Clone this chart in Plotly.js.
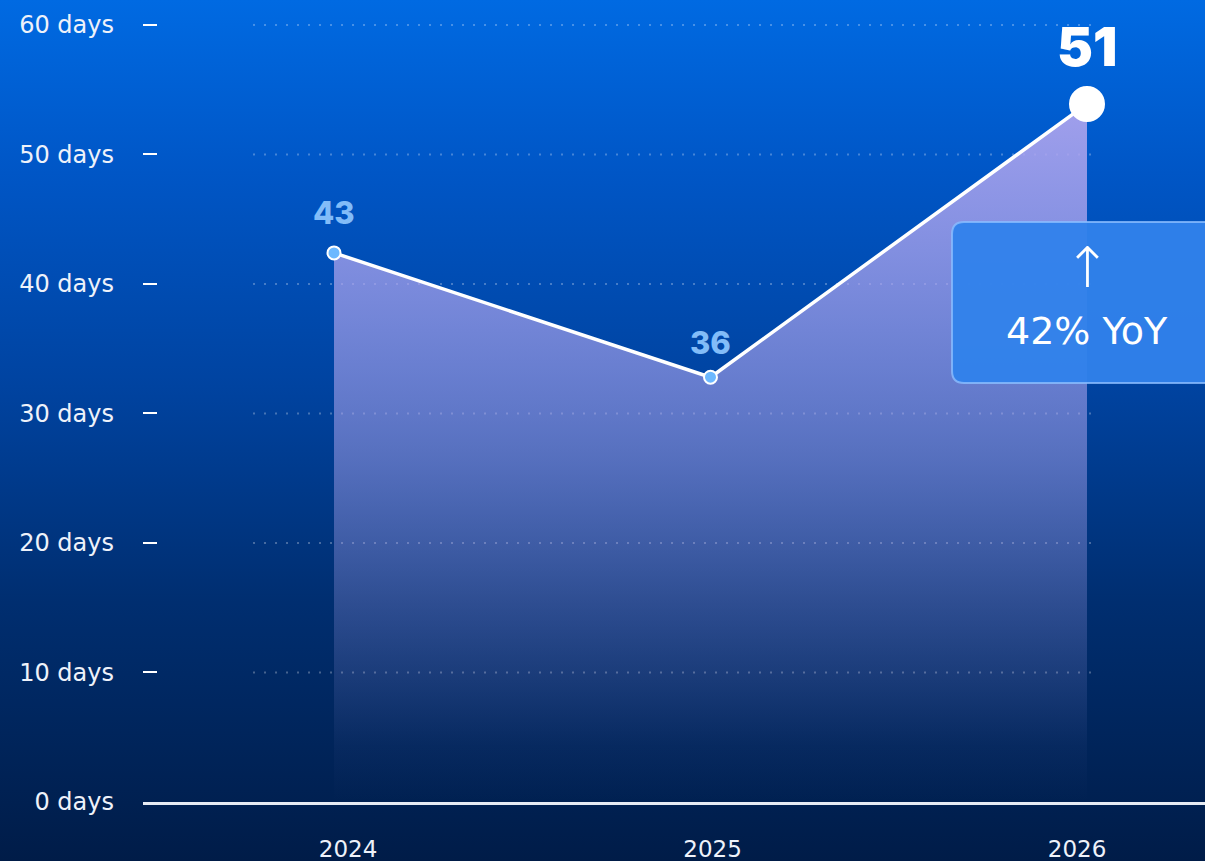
<!DOCTYPE html>
<html>
<head>
<meta charset="utf-8">
<script src="https://cdn.plot.ly/plotly-3.0.1.min.js"></script>
<style>
  html, body { margin: 0; padding: 0; width: 1205px; height: 861px; overflow: hidden;
    background: linear-gradient(to bottom, #006ae2 0%, #0056c6 20%, #0043a0 45%, #002e70 70%, #001c48 100%); }
  #chart { width: 1205px; height: 861px; }
</style>
</head>
<body>
<div id="chart"></div>
<script>
// ---- data ----
const years = [2024, 2025, 2026];
const tickYears = ['2024', '2025', '2026'];
const plotValues = [42.4, 32.8, 53.9];       // plotted heights
const labelTexts = ['43', '36', '51'];         // value labels as printed
const yTickVals = [0, 10, 20, 30, 40, 50, 60];
const yTickText = ['0 days', '10 days', '20 days', '30 days', '40 days', '50 days', '60 days'];
const gridVals = [10, 20, 30, 40, 50, 60];
const yoyText = '42% YoY';

// ---- styles ----
const labelColors = ['#82bcf8', '#82bcf8', '#ffffff'];
const labelSizes = [31, 31, 54];
const labelWeights = [800, 800, 900];
const labelShift = [40, 35, 57];
const markerSizes = [13, 13, 34];
const markerColors = ['#6cb8ff', '#6cb8ff', '#ffffff'];

const baseTrace = {
  type: 'scatter', mode: 'none',
  x: years, y: [null, null, null],
  xaxis: 'x', yaxis: 'y',
  hoverinfo: 'skip', showlegend: false
};

const trace = {
  type: 'scatter',
  mode: 'lines+markers',
  x: years,
  y: plotValues,
  xaxis: 'x2',
  yaxis: 'y',
  fill: 'tozeroy',
  fillgradient: {
    type: 'vertical',
    start: 0,
    stop: 54,
    colorscale: [
      [0, 'rgba(175,165,238,0)'],
      [0.08, 'rgba(175,165,238,0.04)'],
      [0.5, 'rgba(175,165,238,0.5)'],
      [1, 'rgba(175,165,238,0.92)']
    ]
  },
  line: { color: '#ffffff', width: 3.5 },
  marker: { size: markerSizes, color: markerColors, line: { color: '#ffffff', width: 2 }, opacity: 1 },
  hoverinfo: 'skip',
  showlegend: false
};

// dotted grid lines as shapes
const shapes = gridVals.map(v => ({
  type: 'line', xref: 'paper', yref: 'y',
  x0: 0.1036, x1: 0.901, y0: v, y1: v,
  line: { color: 'rgba(255,255,255,0.28)', width: 2, dash: '2px,9px' },
  layer: 'below'
}));

// YoY box (rounded rect in paper coords)
const bx0 = 0.7618, bx1 = 1.03, by0 = 0.5380, by1 = 0.7444, rx = 0.0113, ry = 0.0154;
const boxPath = `M ${bx0+rx},${by1} L ${bx1-rx},${by1} Q ${bx1},${by1} ${bx1},${by1-ry} L ${bx1},${by0+ry} Q ${bx1},${by0} ${bx1-rx},${by0} L ${bx0+rx},${by0} Q ${bx0},${by0} ${bx0},${by0+ry} L ${bx0},${by1-ry} Q ${bx0},${by1} ${bx0+rx},${by1} Z`;
shapes.push({
  type: 'path', xref: 'paper', yref: 'paper', path: boxPath,
  fillcolor: 'rgba(48,130,235,0.95)',
  line: { color: 'rgba(140,190,255,0.8)', width: 2 },
  layer: 'above'
});

const annotations = years.map((yr, i) => ({
  xref: 'x2', yref: 'y', x: yr, y: plotValues[i],
  text: labelTexts[i], showarrow: false,
  yanchor: 'middle', xanchor: 'center', yshift: labelShift[i],
  font: { family: 'Inter, Open Sans, sans-serif', size: labelSizes[i], color: labelColors[i], weight: labelWeights[i] }
}));
annotations.push({
  xref: 'paper', yref: 'paper', x: 0.8889, y: 0.6855,
  text: '↑', showarrow: false, xanchor: 'center', yanchor: 'middle',
  font: { family: 'DejaVu Sans, sans-serif', size: 56, color: '#ffffff', weight: 300 }
});
annotations.push({
  xref: 'paper', yref: 'paper', x: 0.8889, y: 0.6046,
  text: yoyText, showarrow: false, xanchor: 'center', yanchor: 'middle',
  font: { family: 'DejaVu Sans, sans-serif', size: 38, color: '#ffffff' }
});

const layout = {
  width: 1205, height: 861,
  margin: { l: 143, r: 0, t: 23, b: 59 },
  paper_bgcolor: 'rgba(0,0,0,0)',
  plot_bgcolor: 'rgba(0,0,0,0)',
  font: { family: 'DejaVu Sans, sans-serif', color: '#eef2fa' },
  xaxis: {
    range: [2023.4376, 2026.351],
    tickvals: years, ticktext: tickYears,
    showgrid: false, zeroline: false,
    showline: true, linecolor: '#e6ebf3', linewidth: 3,
    ticks: '', ticklabelstandoff: 24,
    tickfont: { size: 23, color: '#eef2fa' },
    fixedrange: true, automargin: false
  },
  xaxis2: {
    overlaying: 'x', range: [2023.4927, 2026.3134], visible: false, fixedrange: true
  },
  yaxis: {
    range: [0, 60.15],
    tickvals: yTickVals, ticktext: yTickText,
    showgrid: false, zeroline: false, showline: false,
    ticks: 'inside', ticklen: 14, tickwidth: 2, tickcolor: '#ffffff',
    ticklabelstandoff: 28,
    tickfont: { size: 24, color: '#eef2fa' },
    fixedrange: true, automargin: false
  },
  shapes: shapes,
  annotations: annotations,
  showlegend: false
};

Plotly.newPlot('chart', [baseTrace, trace], layout, { displayModeBar: false, staticPlot: true });
</script>
</body>
</html>
